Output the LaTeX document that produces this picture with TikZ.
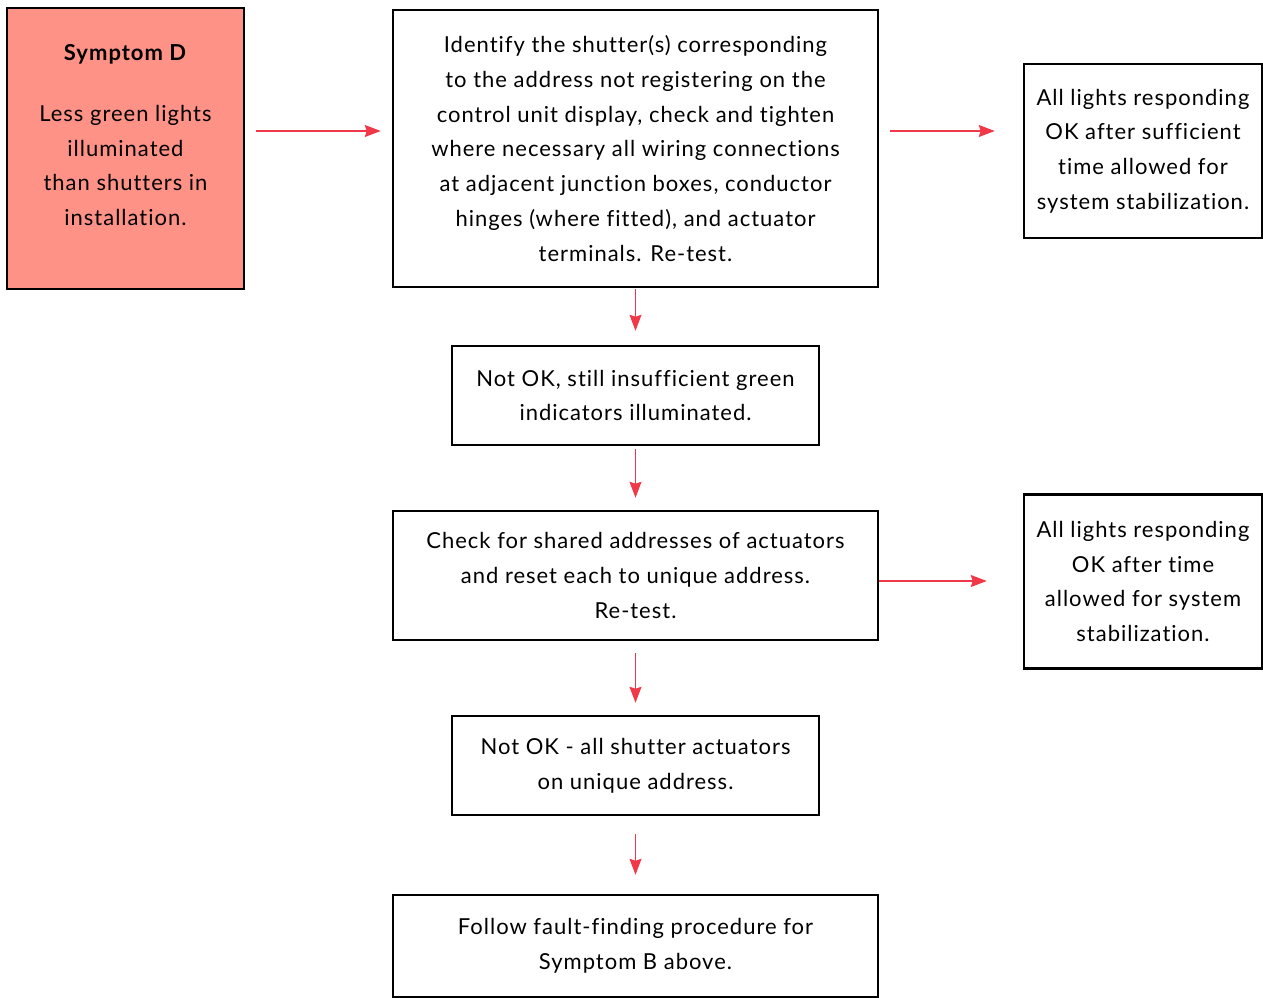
\documentclass[tikz,border=0pt]{standalone}
\usepackage{fontspec}
\setmainfont{Lato}[LetterSpace=4.5,Ligatures=NoCommon]
\usetikzlibrary{arrows.meta,positioning}
\definecolor{flowred}{RGB}{240,56,72}
\definecolor{symptomfill}{RGB}{255,146,134}

\begin{document}
\begin{tikzpicture}[x=1pt,y=-1pt,node distance=180pt,on grid,
  box/.style={draw,line width=2.5pt,align=center,inner sep=0pt,
    font=\fontsize{22}{34.7}\selectfont},
  wide/.style={box,minimum width=485pt},
  narrow/.style={box,minimum width=367pt,minimum height=99pt},
  side/.style={box,minimum width=238pt,minimum height=174pt},
  flow/.style={draw=flowred,line width=1.2pt,-{Stealth[length=16pt,width=12pt,inset=2pt]}}]
  \useasboundingbox (0,0) rectangle (1263,998);
   \node[wide,minimum height=277pt] (check) at (635.5,148.5)
     {Identify the shutter(s) corresponding\\ to the address not registering on the\\
      control unit display, check and tighten\\ where necessary all wiring connections\\
      at adjacent junction boxes, conductor\\ hinges (where fitted), and actuator\\
      terminals. Re-test.};
   \node[box,fill=symptomfill,minimum width=237pt,minimum height=281pt] (symptom) [left=510pt of check]
     {\textbf{Symptom D}\\[26pt] Less green lights\\ illuminated\\ than shutters in\\ installation.\\[-8pt]\mbox{}};
   \node[side] (ok1) [right=507.5pt of check,yshift=-2.5pt]
     {All lights responding\\ OK after sufficient\\ time allowed for\\ system stabilization.};
   \node[narrow] (notok1) [below=247pt of check]
     {Not OK, still insufficient green\\ indicators illuminated.};
   \node[wide,minimum height=129pt] (shared) [below=of notok1]
     {Check for shared addresses of actuators\\ and reset each to unique address.\\ Re-test.};
   \node[side] (ok2) [right=507.5pt of shared,yshift=-6pt]
     {All lights responding\\ OK after time\\ allowed for system\\ stabilization.};
   \node[narrow] (notok2) [below=190pt of shared]
     {Not OK - all shutter actuators\\ on unique address.};
   \node[wide,minimum height=102pt] (follow) [below=180.5pt of notok2]
     {Follow fault-finding procedure for\\ Symptom B above.};
    % connectors
    \draw[flow,shorten <=11pt,shorten >=11pt] ([yshift=17.5pt]symptom.east) -- ([yshift=17.5pt]check.west);
    \draw[flow,shorten <=11pt,shorten >=28pt] ([yshift=17.5pt]check.east) -- ([yshift=20pt]ok1.west);
    \draw[flow,shorten <=1pt,shorten >=14pt] (check.south) -- (notok1.north);
    \draw[flow,shorten <=3pt,shorten >=12pt] (notok1.south) -- (shared.north);
    \draw[flow,shorten >=36pt] ([yshift=-5.5pt]shared.east) -- ([yshift=0.5pt]ok2.west);
    \draw[flow,shorten <=12pt,shorten >=12pt] (shared.south) -- (notok2.north);
    \draw[flow,shorten <=18pt,shorten >=19pt] (notok2.south) -- (follow.north);
\end{tikzpicture}
\end{document}
